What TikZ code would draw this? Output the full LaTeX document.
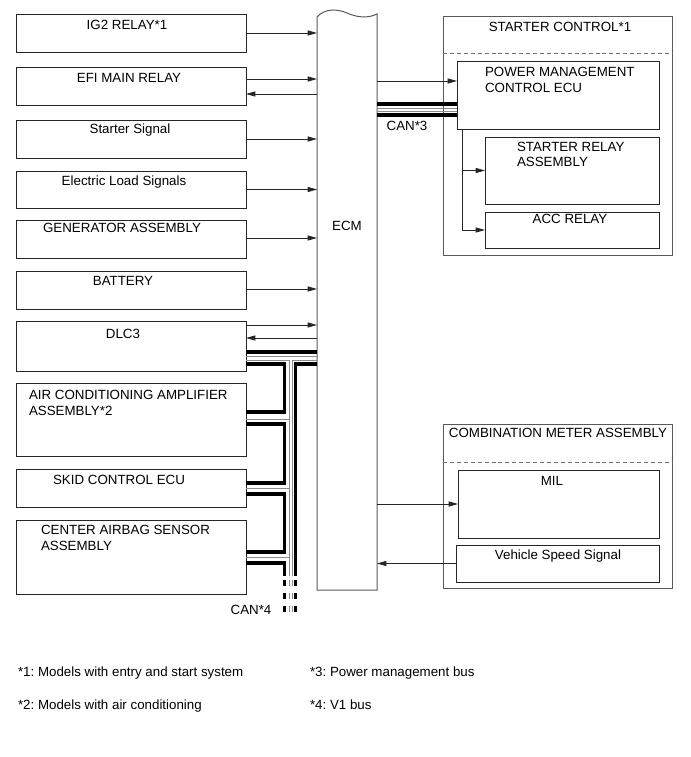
\documentclass[tikz,border=0pt]{standalone}
\usepackage{fontspec}
\setmainfont{Liberation Sans}
\usetikzlibrary{arrows.meta,calc,fit}
\tikzset{
  box/.style={draw=black!85, line width=0.75pt, inner sep=0pt, outer sep=0pt, fit={#1}},
  obox/.style={draw=black!65, line width=0.75pt, inner sep=0pt, outer sep=0pt, fit={#1}},
  txt/.style={inner sep=0pt, outer sep=0pt, text height=7.2pt, text depth=0pt},
  ltxt/.style={txt, anchor=west},
  arr/.style={draw=black!85, line width=0.6pt, -{Triangle[length=7pt,width=3.8pt]}},
  cank/.style={draw=black, line width=2.5pt, line join=miter},
  cann/.style={draw=black!45, line width=0.6pt},
  sepline/.style={draw=black!55, line width=0.6pt, dash pattern=on 3pt off 2.2pt},
  busdash/.style={dash pattern=on 4.5pt off 5.25pt}
}
\begin{document}
\frenchspacing
\begin{tikzpicture}[x=0.75pt,y=-0.75pt,font=\fontsize{10}{12}\selectfont]
\useasboundingbox (0,0) rectangle (691,757);

% ---------- left boxes ----------
\node[box={(16,14)(246,52)}]   (ig2)  {};
\node[box={(16,67)(246,105)}]  (efi)  {};
\node[box={(16,120)(246,158)}] (sts)  {};
\node[box={(16,171)(246,208)}] (els)  {};
\node[box={(16,220)(246,258)}] (gen)  {};
\node[box={(16,271)(246,309)}] (bat)  {};
\node[box={(16,321)(246,371)}] (dlc)  {};
\node[box={(16,383)(246,456)}] (aca)  {};
\node[box={(16,469)(246,507)}] (skid) {};
\node[box={(16,520)(246,594)}] (cab)  {};

\node[txt] (tig2) at (127,25)  {IG2 RELAY*1};
\node[txt] (tefi) at (129,78)  {EFI MAIN RELAY};
\node[txt] (tsts) at (130,129) {Starter Signal};
\node[txt] (tels) at (124,181) {Electric Load Signals};
\node[txt] (tgen) at (122,228) {GENERATOR ASSEMBLY};
\node[txt] (tbat) at (123,281) {BATTERY};
\node[txt] (tdlc) at (123,334) {DLC3};
\node[ltxt] (taca1) at (29,395) {AIR CONDITIONING AMPLIFIER};
\node[ltxt] (taca2) at (29,411) {ASSEMBLY*2};
\node[txt] (tskid) at (119,480) {SKID CONTROL ECU};
\node[ltxt] (tcab1) at (41,530) {CENTER AIRBAG SENSOR};
\node[ltxt] (tcab2) at (41,546) {ASSEMBLY};

% ---------- ECM ----------
\node[inner sep=0pt, outer sep=0pt, fit={(317,17)(377,590)}] (ecm) {};
\draw[draw=black!65, line width=0.75pt] (ecm.south west) -- (317,17)
  .. controls (325,8) and (338,9) .. (347,13)
  .. controls (356,17) and (367,19) .. (377,14)
  -- (ecm.south east) -- cycle;
\node[txt] (tecm) at (347,226) {ECM};

% ---------- starter control ----------
\node[obox={(443,16)(672,255)}] (stc) {};
\draw[sepline] ($(stc.north west)+(0,37)$) -- ($(stc.north east)+(0,37)$);
\node[txt] (tstc) at (560,27) {STARTER CONTROL*1};
\node[box={(457,61)(659,129)}]  (pm)  {};
\node[box={(485,137)(659,204)}] (sr)  {};
\node[box={(485,212)(659,248)}] (acc) {};
\node[ltxt] (tpm1) at (485,72)  {POWER MANAGEMENT};
\node[ltxt] (tpm2) at (485,88)  {CONTROL ECU};
\node[ltxt] (tsr1) at (517,147) {STARTER RELAY};
\node[ltxt] (tsr2) at (517,162) {ASSEMBLY};
\node[txt]  (tacc) at (570,219) {ACC RELAY};

% ---------- combination meter ----------
\node[obox={(443,424)(672,588)}] (cmb) {};
\draw[sepline] ($(cmb.north west)+(0,38)$) -- ($(cmb.north east)+(0,38)$);
\node[txt] (tcmb) at (558,433) {COMBINATION METER ASSEMBLY};
\node[box={(458,470)(659,538)}] (mil) {};
\node[box={(456,545)(659,582)}] (vss) {};
\node[txt] (tmil) at (552,481) {MIL};
\node[txt] (tvss) at (558,555) {Vehicle Speed Signal};

% ---------- signal arrows ----------
\draw[arr] (ig2.east) -- (ig2.east -| ecm.west);
\draw[arr] ($(efi.east)+(0,-7)$) -- ($(efi.east -| ecm.west)+(0,-7)$);
\draw[arr] ($(efi.east -| ecm.west)+(0,8)$) -- ($(efi.east)+(0,8)$);
\draw[arr] (sts.east) -- (sts.east -| ecm.west);
\draw[arr] (els.east) -- (els.east -| ecm.west);
\draw[arr] ($(gen.east)+(0,-1)$) -- ($(gen.east -| ecm.west)+(0,-1)$);
\draw[arr] ($(bat.east)+(0,-1)$) -- ($(bat.east -| ecm.west)+(0,-1)$);
\draw[arr] ($(dlc.east)+(0,-21)$) -- ($(dlc.east -| ecm.west)+(0,-21)$);
\draw[arr] ($(dlc.east -| ecm.west)+(0,-8)$) -- ($(dlc.east)+(0,-8)$);

\draw[arr] ($(pm.west -| ecm.east)+(0,-14)$) -- ($(pm.west)+(0,-14)$);
\coordinate (br) at ($(pm.south west)+(5,0)$);
\draw[arr] (br) |- (sr.west);
\draw[arr] (br) |- (acc.west);
\draw[arr] (mil.west -| ecm.east) -- (mil.west);
\draw[arr] (vss.west) -- (vss.west -| ecm.east);

% ---------- CAN*3 ----------
\draw[cank] ($(pm.west -| ecm.east)+(0,9)$)  -- ($(pm.west)+(0,9)$);
\draw[cann] ($(pm.west -| ecm.east)+(0,13)$) -- ($(pm.west)+(0,13)$);
\draw[cann] ($(pm.west -| ecm.east)+(0,16)$) -- ($(pm.west)+(0,16)$);
\draw[cank] ($(pm.west -| ecm.east)+(0,20)$) -- ($(pm.west)+(0,20)$);
\node[txt] (tcan3) at (407,126) {CAN*3};

% ---------- CAN*4 ----------
% DLC3 - ECM pair
\draw[cank] ($(dlc.north east)+(0,31)$) -- ($(dlc.north east -| ecm.west)+(0,31)$);
\draw[cann] ($(dlc.north east)+(0,35.5)$) -- ($(dlc.north east -| ecm.west)+(0,35.5)$);
% left chain (thin trunk)
\draw[cann] ($(dlc.north east)+(0,39)$) -- ++(43,0) -- ++(0,216);
\draw[cann] ($(aca.north east)+(0,36)$)  -- ++(43,0);
\draw[cann] ($(skid.north east)+(0,19)$) -- ++(43,0);
\draw[cann] ($(cab.north east)+(0,37)$)  -- ++(43,0);
% left chain (thick daisy chain)
\draw[cank] ($(dlc.north east)+(0,43)$)  -- ++(38.5,0) -- ++(0,48) -- ++(-38.5,0);
\draw[cank] ($(aca.north east)+(0,41)$)  -- ++(38.5,0) -- ++(0,59) -- ++(-38.5,0);
\draw[cank] ($(skid.north east)+(0,25)$) -- ++(38.5,0) -- ++(0,58) -- ++(-38.5,0);
\draw[cank] ($(cab.north east)+(0,43)$)  -- ++(38.5,0) -- ++(0,13);
% right trunk from ECM
\draw[cann] ($(dlc.north east -| ecm.west)+(0,39)$) -- ++(-25,0) -- ++(0,216);
\draw[cank] ($(dlc.north east -| ecm.west)+(0,43)$) -- ++(-21.5,0) -- ++(0,212);
% dashed ends
\draw[cank, busdash] (284.5,580) -- (284.5,613);
\draw[cann, busdash] (289,580) -- (289,613);
\draw[cann, busdash] (292,580) -- (292,613);
\draw[cank, busdash] (295.5,580) -- (295.5,613);
\node[txt] (tcan4) at (251,610) {CAN*4};

% ---------- footnotes ----------
\node[ltxt] (f1) at (18,672)  {*1: Models with entry and start system};
\node[ltxt] (f3) at (310,672) {*3: Power management bus};
\node[ltxt] (f2) at (18,705)  {*2: Models with air conditioning};
\node[ltxt] (f4) at (310,705) {*4: V1 bus};
\end{tikzpicture}
\end{document}
